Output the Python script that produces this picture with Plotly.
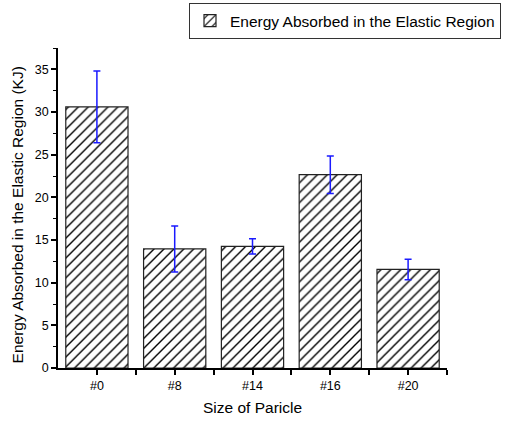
import plotly.graph_objects as go

categories = ["#0", "#8", "#14", "#16", "#20"]
energy = [30.6, 13.95, 14.25, 22.65, 11.55]
errors = [4.2, 2.7, 0.9, 2.2, 1.2]
series_name = "Energy Absorbed in the Elastic Region"
x_title = "Size of Paricle"
y_title = "Energy Absorbed in the Elastic Region (KJ)"

fig = go.Figure()
fig.add_trace(go.Bar(
    x=categories, y=energy, name=series_name, width=0.8,
    marker=dict(color="white", line=dict(color="#222222", width=1.2),
                pattern=dict(shape="/", fgcolor="black", bgcolor="white", fgopacity=1,
                             size=7, solidity=0.2)),
    error_y=dict(type="data", array=errors, visible=True, color="#1a1aff", thickness=1.5, width=3.5),
    showlegend=True,
))

fig.add_annotation(text=y_title, xref="paper", yref="paper", x=-0.1054, y=0.48,
                   xanchor="center", yanchor="middle", textangle=-90, showarrow=False,
                   font=dict(size=15.5))
fig.add_annotation(text=x_title, xref="paper", yref="paper", x=0.5, y=-0.122,
                   xanchor="center", yanchor="middle", showarrow=False,
                   font=dict(size=15.5))

fig.update_layout(
    width=506, height=421,
    margin=dict(l=58, r=59, t=48, b=53, autoexpand=False),
    paper_bgcolor="white", plot_bgcolor="white",
    font=dict(family="Liberation Sans, Arial, sans-serif", color="black"),
    showlegend=True,
    legend=dict(xref="container", yref="container", x=189/506, xanchor="left",
                y=1 - 3/421, yanchor="top",
                bordercolor="#333333", borderwidth=1, bgcolor="white",
                font=dict(size=15.5), itemwidth=30),
    xaxis=dict(
        range=[-0.5, 4.5], showline=True, linecolor="black", linewidth=1.5,
        ticks="outside", ticklen=5, tickwidth=1.5, tickcolor="black",
        tickfont=dict(size=12.5), showgrid=False, zeroline=False, automargin=False,
        minor=dict(ticks="outside", ticklen=5, tickwidth=1.5, tickcolor="black", tickvals=[0.5, 1.5, 2.5, 3.5, 4.5]),
    ),
    yaxis=dict(
        range=[0, 37.5], showline=True, linecolor="black", linewidth=1.5,
        ticks="outside", ticklen=5, tickwidth=1.5, tickcolor="black",
        tick0=0, dtick=5, tickfont=dict(size=12.5), showgrid=False, zeroline=False, automargin=False,
        minor=dict(ticks="outside", ticklen=3, tickwidth=1.2, tickcolor="black", dtick=2.5, tick0=0),
    ),
)

fig.write_html("out.html")
